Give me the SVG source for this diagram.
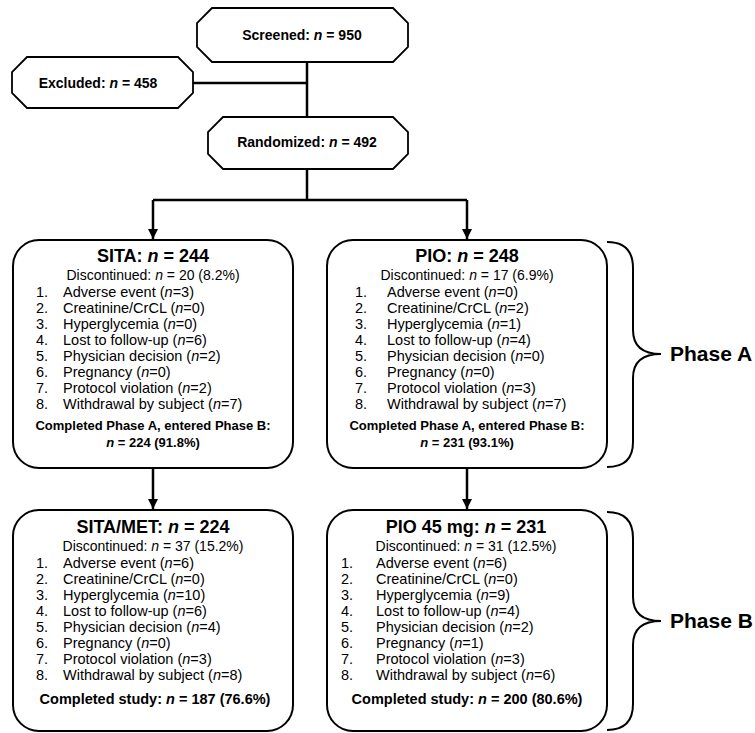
<svg xmlns="http://www.w3.org/2000/svg" width="755" height="733" viewBox="0 0 755 733">
<style>
text{font-family:"Liberation Sans",Arial,sans-serif;fill:#000}
.oct{fill:#fff;stroke:#000;stroke-width:1.8}
.box{fill:#fff;stroke:#000;stroke-width:2}
.brace{fill:none;stroke:#000;stroke-width:2}
.ln{fill:none;stroke:#000;stroke-width:2.5}
.hd{font-size:14px;font-weight:bold}
.ttl{font-size:18px;font-weight:bold}
.dis{font-size:14px}
.it{font-size:14.5px}
.cpa{font-size:13px;font-weight:bold}
.cs{font-size:14.5px;font-weight:bold}
.ph{font-size:21px;font-weight:bold}
.mid{text-anchor:middle}
.i{font-style:italic}
</style>
<defs>
<marker id="ah" viewBox="0 0 10 10" refX="10" refY="5" markerWidth="4" markerHeight="4" orient="auto" markerUnits="strokeWidth">
<path d="M0,0 L10,5 L0,10 z" fill="#000"/>
</marker>
</defs>

<g id="connectors">
<path class="ln" d="M307,62 V117"/>
<path class="ln" d="M193,83 H307"/>
<path class="ln" d="M307,169 V200"/>
<path class="ln" d="M153,200 H467"/>
<path class="ln" d="M153,200 V239" marker-end="url(#ah)"/>
<path class="ln" d="M467,200 V239" marker-end="url(#ah)"/>
<path class="ln" d="M153,468 V509" marker-end="url(#ah)"/>
<path class="ln" d="M467,468 V509" marker-end="url(#ah)"/>
</g>

<g id="screened">
<polygon class="oct" points="212,8 393,8 408,23 408,47 393,62 212,62 197,47 197,23"/>
<text class="hd mid" x="302" y="40">Screened:  <tspan class="i">n</tspan> = 950</text>
</g>

<g id="excluded">
<polygon class="oct" points="27,57 178,57 193,72 193,93 178,108 27,108 12,93 12,72"/>
<text class="hd mid" x="98" y="88">Excluded: <tspan class="i">n</tspan> = 458</text>
</g>

<g id="randomized">
<polygon class="oct" points="223,117 393,117 408,132 408,154 393,169 223,169 208,154 208,132"/>
<text class="hd mid" x="307" y="147">Randomized: <tspan class="i">n</tspan> = 492</text>
</g>

<g id="sita">
<rect class="box" x="13" y="240" width="280" height="228" rx="26" ry="26"/>
<text class="ttl mid" x="153" y="262">SITA: <tspan class="i">n</tspan> = 244</text>
<text class="dis mid" x="153" y="280">Discontinued: <tspan class="i">n</tspan> = 20 (8.2%)</text>
<text class="it" x="36" y="297">1.</text><text class="it" x="63" y="297">Adverse event (<tspan class="i">n</tspan>=3)</text>
<text class="it" x="36" y="313">2.</text><text class="it" x="63" y="313">Creatinine/CrCL (<tspan class="i">n</tspan>=0)</text>
<text class="it" x="36" y="329">3.</text><text class="it" x="63" y="329">Hyperglycemia (<tspan class="i">n</tspan>=0)</text>
<text class="it" x="36" y="345">4.</text><text class="it" x="63" y="345">Lost to follow-up (<tspan class="i">n</tspan>=6)</text>
<text class="it" x="36" y="361">5.</text><text class="it" x="63" y="361">Physician decision (<tspan class="i">n</tspan>=2)</text>
<text class="it" x="36" y="377">6.</text><text class="it" x="63" y="377">Pregnancy (<tspan class="i">n</tspan>=0)</text>
<text class="it" x="36" y="393">7.</text><text class="it" x="63" y="393">Protocol violation (<tspan class="i">n</tspan>=2)</text>
<text class="it" x="36" y="409">8.</text><text class="it" x="63" y="409">Withdrawal by subject (<tspan class="i">n</tspan>=7)</text>
<text class="cpa mid" x="153" y="430">Completed Phase A, entered Phase B:</text>
<text class="cpa mid" x="153" y="447"><tspan class="i">n</tspan> = 224 (91.8%)</text>
</g>

<g id="pio">
<rect class="box" x="327" y="240" width="280" height="228" rx="26" ry="26"/>
<text class="ttl mid" x="467" y="262">PIO: <tspan class="i">n</tspan> = 248</text>
<text class="dis mid" x="467" y="280">Discontinued: <tspan class="i">n</tspan> = 17 (6.9%)</text>
<text class="it" x="355" y="297">1.</text><text class="it" x="387" y="297">Adverse event (<tspan class="i">n</tspan>=0)</text>
<text class="it" x="355" y="313">2.</text><text class="it" x="387" y="313">Creatinine/CrCL (<tspan class="i">n</tspan>=2)</text>
<text class="it" x="355" y="329">3.</text><text class="it" x="387" y="329">Hyperglycemia (<tspan class="i">n</tspan>=1)</text>
<text class="it" x="355" y="345">4.</text><text class="it" x="387" y="345">Lost to follow-up (<tspan class="i">n</tspan>=4)</text>
<text class="it" x="355" y="361">5.</text><text class="it" x="387" y="361">Physician decision (<tspan class="i">n</tspan>=0)</text>
<text class="it" x="355" y="377">6.</text><text class="it" x="387" y="377">Pregnancy (<tspan class="i">n</tspan>=0)</text>
<text class="it" x="355" y="393">7.</text><text class="it" x="387" y="393">Protocol violation (<tspan class="i">n</tspan>=3)</text>
<text class="it" x="355" y="409">8.</text><text class="it" x="387" y="409">Withdrawal by subject (<tspan class="i">n</tspan>=7)</text>
<text class="cpa mid" x="467" y="430">Completed Phase A, entered Phase B:</text>
<text class="cpa mid" x="467" y="447"><tspan class="i">n</tspan> = 231 (93.1%)</text>
</g>

<g id="sitamet">
<rect class="box" x="13" y="510" width="280" height="221" rx="26" ry="26"/>
<text class="ttl mid" x="153" y="533">SITA/MET: <tspan class="i">n</tspan> = 224</text>
<text class="dis mid" x="153" y="551">Discontinued: <tspan class="i">n</tspan> = 37 (15.2%)</text>
<text class="it" x="36" y="568">1.</text><text class="it" x="63" y="568">Adverse event (<tspan class="i">n</tspan>=6)</text>
<text class="it" x="36" y="584">2.</text><text class="it" x="63" y="584">Creatinine/CrCL (<tspan class="i">n</tspan>=0)</text>
<text class="it" x="36" y="600">3.</text><text class="it" x="63" y="600">Hyperglycemia (<tspan class="i">n</tspan>=10)</text>
<text class="it" x="36" y="616">4.</text><text class="it" x="63" y="616">Lost to follow-up (<tspan class="i">n</tspan>=6)</text>
<text class="it" x="36" y="632">5.</text><text class="it" x="63" y="632">Physician decision (<tspan class="i">n</tspan>=4)</text>
<text class="it" x="36" y="648">6.</text><text class="it" x="63" y="648">Pregnancy (<tspan class="i">n</tspan>=0)</text>
<text class="it" x="36" y="664">7.</text><text class="it" x="63" y="664">Protocol violation (<tspan class="i">n</tspan>=3)</text>
<text class="it" x="36" y="680">8.</text><text class="it" x="63" y="680">Withdrawal by subject (<tspan class="i">n</tspan>=8)</text>
<text class="cs mid" x="155" y="704">Completed study: <tspan class="i">n</tspan> = 187 (76.6%)</text>
</g>

<g id="pio45">
<rect class="box" x="327" y="510" width="280" height="221" rx="26" ry="26"/>
<text class="ttl mid" x="466" y="533">PIO 45 mg: <tspan class="i">n</tspan> = 231</text>
<text class="dis mid" x="466" y="551">Discontinued: <tspan class="i">n</tspan> = 31 (12.5%)</text>
<text class="it" x="341" y="568">1.</text><text class="it" x="376" y="568">Adverse event (<tspan class="i">n</tspan>=6)</text>
<text class="it" x="341" y="584">2.</text><text class="it" x="376" y="584">Creatinine/CrCL (<tspan class="i">n</tspan>=0)</text>
<text class="it" x="341" y="600">3.</text><text class="it" x="376" y="600">Hyperglycemia (<tspan class="i">n</tspan>=9)</text>
<text class="it" x="341" y="616">4.</text><text class="it" x="376" y="616">Lost to follow-up (<tspan class="i">n</tspan>=4)</text>
<text class="it" x="341" y="632">5.</text><text class="it" x="376" y="632">Physician decision (<tspan class="i">n</tspan>=2)</text>
<text class="it" x="341" y="648">6.</text><text class="it" x="376" y="648">Pregnancy (<tspan class="i">n</tspan>=1)</text>
<text class="it" x="341" y="664">7.</text><text class="it" x="376" y="664">Protocol violation (<tspan class="i">n</tspan>=3)</text>
<text class="it" x="341" y="680">8.</text><text class="it" x="376" y="680">Withdrawal by subject (<tspan class="i">n</tspan>=6)</text>
<text class="cs mid" x="467" y="704">Completed study: <tspan class="i">n</tspan> = 200 (80.6%)</text>
</g>

<g id="phaseA">
<path class="brace" d="M607,242 Q633,242 633,268 L633,330 Q633,354 661,354 Q633,354 633,378 L633,442 Q633,467 607,467"/>
<text class="ph" x="670" y="361">Phase A</text>
</g>

<g id="phaseB">
<path class="brace" d="M607,512 Q633,512 633,538 L633,597 Q633,621 661,621 Q633,621 633,645 L633,704 Q633,730 607,730"/>
<text class="ph" x="670" y="628">Phase B</text>
</g>
</svg>
